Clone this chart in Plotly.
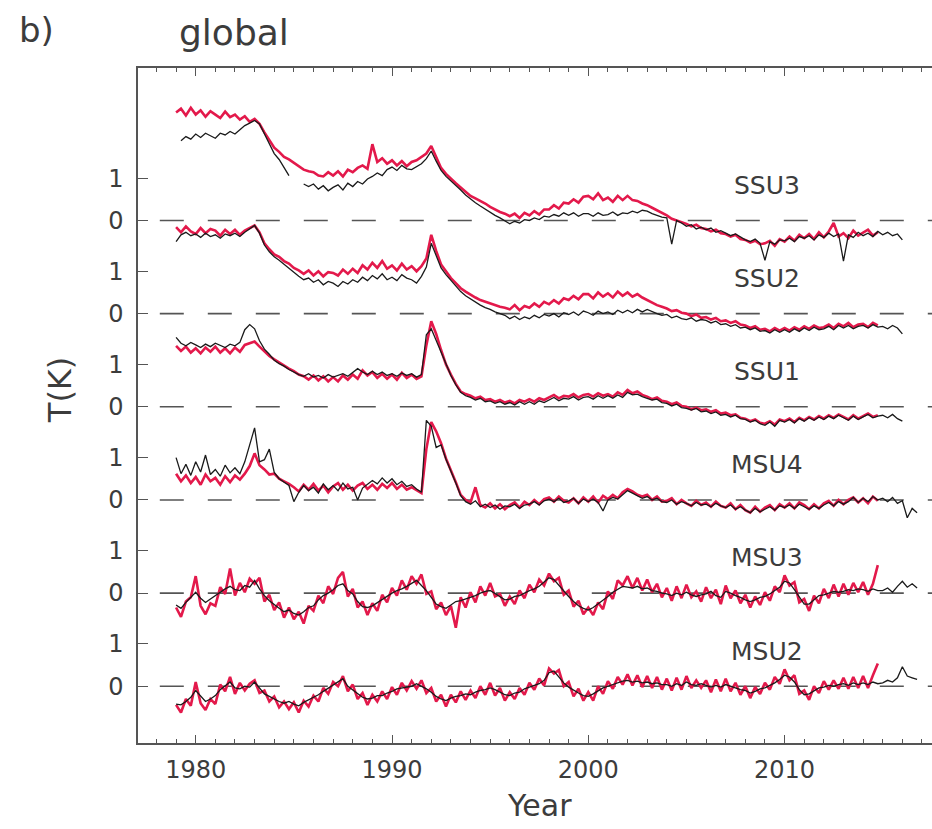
import plotly.graph_objects as go

# ---------------- data (anomalies in K, quarterly samples) ----------------
T0 = 1979.0
STEP = 0.25

band_names = ["SSU3", "SSU2", "SSU1", "MSU4", "MSU3", "MSU2"]
band_offsets = [11.0, 8.8, 6.6, 4.4, 2.2, 0.0]

ssu3_red = [
    2.55, 2.64, 2.48, 2.66, 2.50, 2.60, 2.45, 2.58, 2.50, 2.42, 2.57, 2.44,
    2.50, 2.38, 2.46, 2.33, 2.40, 2.28, 2.08, 1.90, 1.72, 1.62, 1.50, 1.44,
    1.36, 1.28, 1.20, 1.16, 1.14, 1.06, 1.04, 1.14, 1.06, 1.16, 1.04, 1.20,
    1.14, 1.24, 1.30, 1.22, 1.80, 1.38, 1.47, 1.34, 1.42, 1.30, 1.40, 1.28,
    1.38, 1.42, 1.50, 1.58, 1.76, 1.50, 1.24, 1.10, 0.98, 0.88, 0.78, 0.68,
    0.58, 0.52, 0.46, 0.40, 0.32, 0.26, 0.20, 0.16, 0.10, 0.16, 0.06, 0.18,
    0.12, 0.22, 0.14, 0.26, 0.26, 0.36, 0.28, 0.42, 0.40, 0.50, 0.42, 0.56,
    0.58, 0.50, 0.64, 0.48, 0.54, 0.44, 0.58, 0.48, 0.58, 0.48, 0.46, 0.40,
    0.36, 0.30, 0.24, 0.18, 0.12, 0.04, 0.00, -0.04, -0.08, -0.14, -0.10, -0.18,
    -0.20, -0.26, -0.22, -0.30, -0.32, -0.38, -0.34, -0.44, -0.46, -0.52, -0.48, -0.56,
    -0.54, -0.48, -0.60, -0.44, -0.50, -0.38, -0.48, -0.34, -0.42, -0.32, -0.44, -0.28,
    -0.40, -0.26, -0.06, -0.38, -0.30, -0.42, -0.24, -0.36, -0.28, -0.22, -0.36, -0.28,
]
ssu3_black = [
    None, 1.88, 1.98, 1.92, 2.04, 1.96, 2.06, 2.00, 1.94, 2.06, 2.02, 2.10,
    2.04, 2.14, 2.24, 2.30, 2.36, 2.28, 2.04, 1.84, 1.58, 1.44, 1.24, 1.06,
    None, None, 0.86, 0.80, 0.86, 0.74, 0.82, 0.70, 0.78, 0.84, 0.72, 0.88,
    0.80, 0.92, 0.86, 0.98, 1.04, 1.12, 1.06, 1.20, 1.26, 1.18, 1.30, 1.22,
    1.20, 1.28, 1.34, 1.46, 1.64, 1.40, 1.18, 1.04, 0.94, 0.82, 0.72, 0.60,
    0.50, 0.42, 0.34, 0.26, 0.20, 0.12, 0.06, 0.00, -0.08, -0.02, -0.06, 0.02,
    0.00, 0.06, 0.02, 0.10, 0.08, 0.14, 0.10, 0.18, 0.12, 0.18, 0.10, 0.16,
    0.16, 0.10, 0.18, 0.12, 0.14, 0.20, 0.12, 0.18, 0.16, 0.22, 0.18, 0.24,
    0.22, 0.16, 0.12, 0.08, 0.06, -0.56, 0.00, -0.06, -0.14, -0.10, -0.20, -0.16,
    -0.22, -0.18, -0.28, -0.24, -0.30, -0.36, -0.32, -0.40, -0.46, -0.50, -0.44, -0.54,
    -0.94, -0.50, -0.56, -0.46, -0.48, -0.42, -0.50, -0.38, -0.42, -0.36, -0.46, -0.34,
    -0.40, -0.30, -0.38, -0.32, -0.96, -0.34, -0.40, -0.28, -0.36, -0.30, -0.38, -0.26,
    -0.34, -0.28, -0.36, -0.32, -0.46,
]

ssu2_red = [
    2.04, 1.92, 2.06, 1.94, 1.88, 2.02, 1.90, 2.00, 1.96, 1.84, 1.98, 1.88,
    1.98, 1.86, 1.96, 2.02, 2.08, 1.92, 1.66, 1.52, 1.40, 1.34, 1.24, 1.18,
    1.08, 1.02, 0.94, 1.02, 0.90, 1.00, 0.88, 0.98, 0.96, 0.90, 1.04, 0.94,
    1.06, 0.96, 1.14, 1.04, 1.20, 1.08, 1.24, 1.06, 1.14, 1.02, 1.18, 1.04,
    1.12, 1.00, 1.12, 1.30, 1.86, 1.48, 1.16, 1.00, 0.84, 0.72, 0.60, 0.52,
    0.44, 0.38, 0.32, 0.28, 0.24, 0.20, 0.16, 0.14, 0.10, 0.20, 0.08, 0.18,
    0.14, 0.24, 0.16, 0.28, 0.22, 0.32, 0.24, 0.36, 0.32, 0.42, 0.34, 0.46,
    0.46, 0.36, 0.50, 0.40, 0.48, 0.38, 0.52, 0.42, 0.50, 0.40, 0.46, 0.38,
    0.32, 0.26, 0.20, 0.16, 0.12, 0.06, 0.08, 0.02, 0.00, -0.06, -0.02, -0.10,
    -0.08, -0.14, -0.10, -0.18, -0.16, -0.22, -0.18, -0.26, -0.28, -0.34, -0.30, -0.38,
    -0.36, -0.42, -0.34, -0.40, -0.34, -0.40, -0.32, -0.38, -0.30, -0.36, -0.28, -0.34,
    -0.32, -0.26, -0.34, -0.24, -0.30, -0.22, -0.32, -0.26, -0.24, -0.32, -0.22, -0.28,
]
ssu2_black = [
    1.70, 1.86, 1.92, 1.84, 1.88, 1.80, 1.90, 1.82, 1.86, 1.78, 1.88, 1.84,
    1.90, 1.82, 1.92, 2.00, 2.08, 1.90, 1.62, 1.46, 1.34, 1.26, 1.16, 1.06,
    0.96, 0.88, 0.80, 0.84, 0.74, 0.80, 0.68, 0.76, 0.72, 0.64, 0.76, 0.70,
    0.80, 0.74, 0.86, 0.78, 0.90, 0.82, 0.94, 0.80, 0.86, 0.78, 0.92, 0.84,
    0.80, 0.72, 0.88, 1.10, 1.66, 1.36, 1.08, 0.92, 0.78, 0.64, 0.52, 0.42,
    0.34, 0.26, 0.20, 0.14, 0.10, 0.04, 0.00, -0.04, -0.12, -0.06, -0.14, -0.08,
    -0.12, -0.04, -0.10, -0.02, -0.06, 0.00, -0.08, 0.02, -0.02, 0.04, -0.04, 0.06,
    0.02, -0.04, 0.06, 0.00, 0.04, -0.02, 0.08, 0.02, 0.08, 0.02, 0.10, 0.04,
    0.10, 0.04, 0.00, -0.04, -0.02, -0.10, -0.06, -0.12, -0.14, -0.10, -0.18, -0.14,
    -0.16, -0.22, -0.18, -0.26, -0.24, -0.30, -0.26, -0.34, -0.32, -0.38, -0.34, -0.42,
    -0.40, -0.46, -0.38, -0.44, -0.38, -0.44, -0.36, -0.42, -0.34, -0.40, -0.32, -0.38,
    -0.36, -0.30, -0.38, -0.28, -0.34, -0.28, -0.36, -0.30, -0.28, -0.34, -0.26, -0.32,
    -0.30, -0.36, -0.28, -0.34, -0.48,
]

ssu1_red = [
    1.44, 1.32, 1.42, 1.28, 1.38, 1.26, 1.40, 1.30, 1.42, 1.28, 1.38, 1.26,
    1.40, 1.30, 1.46, 1.50, 1.54, 1.42, 1.30, 1.20, 1.12, 1.04, 0.98, 0.90,
    0.84, 0.76, 0.72, 0.64, 0.74, 0.62, 0.72, 0.60, 0.70, 0.60, 0.74, 0.64,
    0.76, 0.66, 0.86, 0.74, 0.82, 0.68, 0.78, 0.66, 0.76, 0.64, 0.80, 0.68,
    0.76, 0.66, 0.72, 1.45, 2.02, 1.72, 1.34, 1.00, 0.76, 0.54, 0.36, 0.30,
    0.26, 0.20, 0.24, 0.16, 0.18, 0.12, 0.16, 0.10, 0.14, 0.08, 0.16, 0.12,
    0.18, 0.12, 0.20, 0.16, 0.22, 0.28, 0.20, 0.26, 0.24, 0.30, 0.22, 0.28,
    0.30, 0.24, 0.32, 0.26, 0.30, 0.24, 0.34, 0.28, 0.40, 0.32, 0.36, 0.28,
    0.24, 0.18, 0.22, 0.14, 0.12, 0.06, 0.10, 0.02, 0.00, -0.06, -0.02, -0.08,
    -0.06, -0.12, -0.08, -0.16, -0.14, -0.20, -0.18, -0.26, -0.28, -0.34, -0.30, -0.38,
    -0.40, -0.34, -0.42, -0.30, -0.34, -0.28, -0.36, -0.26, -0.32, -0.24, -0.30, -0.22,
    -0.28, -0.20, -0.26, -0.18, -0.24, -0.30, -0.20, -0.28, -0.22, -0.16, -0.24, -0.20,
]
ssu1_black = [
    1.64, 1.50, 1.44, 1.52, 1.46, 1.40, 1.48, 1.42, 1.50, 1.44, 1.40, 1.48,
    1.44, 1.52, 1.82, 1.94, 1.84, 1.56, 1.36, 1.24, 1.10, 1.02, 0.96, 0.88,
    0.82, 0.76, 0.72, 0.78, 0.70, 0.74, 0.68, 0.76, 0.70, 0.74, 0.78, 0.72,
    0.80, 0.90, 0.82, 0.76, 0.84, 0.76, 0.82, 0.74, 0.78, 0.72, 0.80, 0.74,
    0.78, 0.70, 0.76, 1.70, 1.84, 1.56, 1.28, 0.98, 0.74, 0.52, 0.34, 0.26,
    0.22, 0.16, 0.20, 0.12, 0.14, 0.08, 0.12, 0.06, 0.10, 0.04, 0.12, 0.06,
    0.12, 0.06, 0.14, 0.10, 0.16, 0.22, 0.14, 0.20, 0.18, 0.24, 0.16, 0.22,
    0.24, 0.18, 0.26, 0.20, 0.26, 0.20, 0.28, 0.22, 0.34, 0.28, 0.30, 0.24,
    0.20, 0.16, 0.18, 0.10, 0.08, 0.02, 0.06, -0.02, -0.04, -0.08, -0.04, -0.12,
    -0.10, -0.16, -0.12, -0.20, -0.18, -0.24, -0.20, -0.28, -0.30, -0.36, -0.32, -0.40,
    -0.44, -0.36, -0.46, -0.32, -0.36, -0.30, -0.38, -0.28, -0.34, -0.26, -0.32, -0.24,
    -0.30, -0.22, -0.28, -0.20, -0.26, -0.32, -0.22, -0.30, -0.24, -0.18, -0.26, -0.22,
    -0.20, -0.26, -0.18, -0.28, -0.34,
]

msu4_red = [
    0.62, 0.44, 0.58, 0.40, 0.54, 0.36, 0.60, 0.44, 0.52, 0.36, 0.56, 0.42,
    0.58, 0.48, 0.62, 0.80, 1.10, 0.82, 0.72, 0.60, 0.62, 0.50, 0.44, 0.38,
    0.30, 0.20, 0.36, 0.24, 0.38, 0.22, 0.34, 0.18, 0.32, 0.40, 0.24, 0.36,
    0.22, 0.34, 0.40, 0.26, 0.36, 0.24, 0.38, 0.28, 0.40, 0.26, 0.36, 0.24,
    0.30, 0.22, 0.16, 1.20, 1.84, 1.62, 1.34, 0.98, 0.72, 0.42, 0.12, 0.00,
    -0.06, 0.30, -0.12, -0.18, -0.08, -0.20, -0.10, -0.22, -0.12, -0.06, -0.18, -0.04,
    -0.12, 0.00, -0.10, 0.02, 0.06, -0.04, 0.08, -0.02, -0.06, 0.04, -0.08, 0.06,
    -0.04, 0.08, -0.06, 0.10, 0.02, 0.12, 0.04, 0.18, 0.26, 0.20, 0.12, 0.08,
    0.12, 0.00, 0.08, -0.04, -0.02, 0.04, -0.10, 0.00, -0.08, -0.14, -0.02, -0.12,
    -0.06, -0.16, -0.04, -0.14, -0.18, -0.08, -0.22, -0.12, -0.24, -0.30, -0.16, -0.28,
    -0.18, -0.12, -0.24, -0.10, -0.18, -0.08, -0.20, -0.06, -0.12, -0.22, -0.10, -0.20,
    -0.08, -0.02, -0.14, 0.00, -0.10, 0.00, 0.06, -0.06, 0.04, -0.08, 0.08, -0.02,
]
msu4_black = [
    1.00, 0.62, 0.84, 0.58, 0.90, 0.66, 1.06, 0.60, 0.72, 0.56, 0.82, 0.64,
    0.76, 0.62, 0.90, 1.30, 1.70, 0.90, 0.95, 1.20, 0.65, 0.50, 0.42, 0.34,
    -0.04, 0.18, 0.34, 0.22, 0.30, 0.16, 0.38, 0.24, 0.34, 0.22, 0.40, 0.26,
    0.30, 0.00, 0.28, 0.36, 0.46, 0.38, 0.52, 0.40, 0.50, 0.36, 0.44, 0.32,
    0.36, 0.26, 0.18, 1.88, 1.74, 1.24, 1.30, 0.96, 0.70, 0.40, 0.10, -0.04,
    -0.10, -0.02, -0.16, -0.10, -0.18, -0.12, -0.22, -0.14, -0.16, -0.10, -0.20, -0.12,
    -0.10, -0.04, -0.12, -0.02, 0.02, -0.04, 0.04, -0.06, -0.02, 0.04, -0.08, 0.02,
    -0.04, 0.02, -0.06, -0.26, 0.00, 0.06, 0.02, 0.12, 0.22, 0.16, 0.10, 0.04,
    0.08, 0.00, 0.04, -0.04, -0.06, 0.00, -0.10, -0.04, -0.08, -0.14, -0.06, -0.12,
    -0.10, -0.16, -0.08, -0.14, -0.18, -0.12, -0.22, -0.16, -0.24, -0.30, -0.20, -0.28,
    -0.22, -0.16, -0.24, -0.14, -0.18, -0.12, -0.20, -0.10, -0.16, -0.22, -0.14, -0.20,
    -0.12, -0.06, -0.14, -0.04, -0.10, -0.04, 0.06, -0.06, 0.04, -0.04, 0.08, 0.00,
    0.04, -0.04, 0.06, -0.08, -0.02, -0.42, -0.20, -0.30,
]

msu3_red = [
    -0.34, -0.56, -0.20, -0.10, 0.40, -0.30, -0.50, -0.24, -0.30, 0.14, -0.02, 0.58,
    -0.06, 0.24, 0.02, 0.34, 0.22, 0.36, -0.20, -0.04, -0.40, -0.22, -0.58, -0.34,
    -0.62, -0.44, -0.72, -0.30, -0.42, -0.06, -0.24, 0.16, -0.02, 0.36, 0.50, -0.08,
    0.10, -0.34, -0.20, -0.52, -0.24, -0.42, -0.04, -0.22, 0.12, -0.06, 0.30, 0.08,
    0.40, 0.22, 0.44, -0.02, 0.04, -0.38, -0.22, -0.52, -0.30, -0.82, -0.10, -0.34,
    0.02, -0.22, 0.16, -0.06, 0.24, -0.08, -0.02, -0.30, -0.08, -0.26, 0.06, -0.12,
    0.20, 0.02, 0.32, 0.18, 0.46, 0.28, 0.36, -0.04, 0.06, -0.32, -0.18, -0.50,
    -0.34, -0.52, -0.22, -0.38, 0.04, -0.14, 0.30, 0.18, 0.40, 0.12, 0.36, 0.06,
    0.32, 0.02, 0.22, -0.10, 0.12, -0.18, 0.16, -0.12, 0.20, -0.10, 0.04, -0.20,
    0.14, -0.12, 0.08, -0.26, 0.18, -0.12, 0.06, -0.24, -0.04, -0.34, -0.08, -0.28,
    0.02, -0.18, 0.16, 0.02, 0.42, 0.18, 0.26, -0.22, -0.14, -0.42, -0.06, -0.24,
    0.10, -0.12, 0.20, -0.08, 0.22, -0.04, 0.24, 0.02, 0.26, -0.04, 0.22, 0.66,
]
msu3_black = [
    -0.28, -0.36, -0.22, -0.10, 0.02, -0.12, -0.22, -0.14, -0.06, 0.04, 0.10, 0.16,
    0.08, 0.06, 0.18, 0.14, 0.30, 0.10, -0.06, -0.18, -0.28, -0.36, -0.44, -0.40,
    -0.48, -0.52, -0.44, -0.34, -0.30, -0.16, -0.06, 0.00, 0.08, 0.18, 0.22, 0.06,
    -0.02, -0.20, -0.32, -0.34, -0.30, -0.22, -0.14, -0.06, 0.00, 0.06, 0.10, 0.16,
    0.24, 0.30, 0.18, 0.06, -0.10, -0.26, -0.32, -0.36, -0.28, -0.20, -0.18, -0.14,
    -0.10, -0.06, 0.00, 0.04, 0.06, -0.02, -0.10, -0.16, -0.14, -0.08, -0.06, 0.00,
    0.06, 0.10, 0.16, 0.26, 0.36, 0.32, 0.18, 0.04, -0.08, -0.20, -0.30, -0.36,
    -0.40, -0.34, -0.26, -0.18, -0.08, 0.02, 0.10, 0.16, 0.14, 0.12, 0.16, 0.10,
    0.12, 0.06, 0.04, 0.00, -0.02, -0.06, 0.00, -0.04, 0.02, -0.04, -0.08, -0.04,
    -0.02, 0.04, -0.06, -0.10, 0.04, 0.00, -0.06, -0.10, -0.16, -0.20, -0.16, -0.10,
    -0.08, -0.02, 0.06, 0.14, 0.28, 0.24, 0.08, -0.10, -0.26, -0.26, -0.16, -0.06,
    -0.04, 0.00, 0.04, 0.02, 0.04, 0.08, 0.06, 0.10, 0.08, 0.04, 0.10, 0.06,
    0.06, 0.12, 0.02, 0.16, 0.28, 0.14, 0.22, 0.12,
]

msu2_red = [
    -0.44, -0.62, -0.30, -0.46, 0.10, -0.40, -0.56, -0.30, -0.42, 0.04, -0.12, 0.22,
    -0.18, 0.08, -0.10, 0.06, 0.14, -0.16, -0.10, -0.36, -0.24, -0.50, -0.36, -0.54,
    -0.38, -0.62, -0.34, -0.48, -0.22, -0.36, -0.04, -0.18, 0.10, 0.00, 0.24, -0.12,
    0.04, -0.30, -0.16, -0.44, -0.20, -0.36, -0.12, -0.30, -0.02, -0.20, 0.08, -0.10,
    0.12, -0.06, 0.14, -0.16, -0.04, -0.36, -0.20, -0.48, -0.20, -0.38, -0.12, -0.32,
    -0.10, -0.28, 0.00, -0.20, 0.08, -0.22, -0.04, -0.34, -0.14, -0.30, -0.04, -0.20,
    0.08, -0.08, 0.18, 0.02, 0.42, 0.30, 0.38, 0.00, 0.10, -0.24, -0.06, -0.34,
    -0.14, -0.34, 0.00, -0.18, 0.12, -0.06, 0.22, 0.04, 0.28, 0.02, 0.26, -0.02,
    0.24, -0.04, 0.22, -0.08, 0.18, -0.10, 0.20, -0.08, 0.24, -0.04, 0.14, -0.04,
    0.14, -0.14, 0.16, -0.12, 0.18, -0.12, 0.08, -0.20, 0.00, -0.28, -0.02, -0.18,
    0.08, -0.08, 0.22, 0.06, 0.40, 0.14, 0.26, -0.18, -0.10, -0.32, 0.00, -0.16,
    0.12, -0.08, 0.14, -0.06, 0.20, -0.06, 0.22, -0.04, 0.24, -0.04, 0.26, 0.54,
]
msu2_black = [
    -0.42, -0.44, -0.36, -0.26, -0.10, -0.24, -0.36, -0.30, -0.22, -0.08, 0.00, 0.10,
    -0.04, -0.06, 0.00, -0.02, 0.10, -0.04, -0.18, -0.24, -0.30, -0.36, -0.40, -0.36,
    -0.42, -0.46, -0.38, -0.32, -0.28, -0.20, -0.12, -0.04, 0.02, 0.10, 0.18, 0.00,
    -0.08, -0.18, -0.26, -0.30, -0.28, -0.22, -0.22, -0.16, -0.12, -0.06, -0.04, -0.02,
    0.00, 0.06, 0.00, -0.06, -0.14, -0.24, -0.30, -0.34, -0.28, -0.24, -0.22, -0.18,
    -0.20, -0.14, -0.10, -0.08, -0.04, -0.08, -0.14, -0.20, -0.22, -0.16, -0.14, -0.06,
    -0.02, 0.02, 0.06, 0.14, 0.32, 0.36, 0.22, 0.08, -0.02, -0.10, -0.16, -0.22,
    -0.24, -0.18, -0.10, -0.04, 0.00, 0.04, 0.08, 0.12, 0.14, 0.10, 0.12, 0.08,
    0.10, 0.06, 0.08, 0.04, 0.04, 0.00, 0.06, 0.02, 0.10, 0.04, 0.02, 0.06,
    0.02, -0.02, 0.02, -0.02, 0.04, 0.00, -0.04, -0.08, -0.10, -0.16, -0.12, -0.06,
    -0.04, 0.02, 0.08, 0.16, 0.26, 0.22, 0.10, -0.08, -0.20, -0.18, -0.10, -0.04,
    -0.02, 0.02, 0.00, 0.04, 0.06, 0.02, 0.08, 0.04, 0.08, 0.04, 0.10, 0.06,
    0.08, 0.14, 0.10, 0.20, 0.46, 0.24, 0.20, 0.16,
]

red_series = [ssu3_red, ssu2_red, ssu1_red, msu4_red, msu3_red, msu2_red]
black_series = [ssu3_black, ssu2_black, ssu1_black, msu4_black, msu3_black, msu2_black]

x_ticks = [1980, 1990, 2000, 2010]
y_tick_labels = ["0", "1"]

# ---------------- styling ----------------
RED = "#e3194b"
BLACK = "#1a1a1a"
TXT = "#3c3c3c"
AX = "#555555"
FONT = "DejaVu Sans"

fig = go.Figure()


def xs(n):
    return [T0 + STEP * i for i in range(n)]


for name, off, red, blk in zip(band_names, band_offsets, red_series, black_series):
    fig.add_trace(go.Scatter(
        x=xs(len(red)), y=[v + off for v in red], mode="lines",
        line=dict(color=RED, width=2.6), showlegend=False, hoverinfo="skip"))
    fig.add_trace(go.Scatter(
        x=xs(len(blk)), y=[None if v is None else v + off for v in blk], mode="lines",
        line=dict(color=BLACK, width=1.3), showlegend=False, hoverinfo="skip"))
    fig.add_shape(type="line", xref="x", yref="y", x0=1978.17, x1=2017.6,
                  y0=off, y1=off, layer="below",
                  line=dict(color=AX, width=1.6, dash="24px,24px"))
    fig.add_annotation(x=2009.1, y=off + 0.83, xref="x", yref="y", text=name,
                       showarrow=False, font=dict(family=FONT, size=25, color=TXT))

tickvals, ticktext = [], []
for off in band_offsets:
    tickvals += [off, off + 1]
    ticktext += y_tick_labels

fig.update_xaxes(
    range=[1977.06, 2017.51], tickvals=x_ticks,
    ticktext=[str(v) for v in x_ticks],
    ticks="inside", ticklen=8, tickwidth=1.2, tickcolor=AX,
    showline=True, linecolor=AX, linewidth=1.5, mirror="ticks",
    showgrid=False, zeroline=False,
    minor=dict(dtick=1, tick0=1980, ticks="inside", ticklen=4, tickcolor=AX, showgrid=False),
    tickfont=dict(family=FONT, size=24, color=TXT), ticklabelstandoff=4,
)
fig.update_yaxes(
    range=[-1.34, 14.6], tickvals=tickvals, ticktext=ticktext,
    ticks="inside", ticklen=10, tickwidth=1.2, tickcolor=AX,
    showline=True, linecolor=AX, linewidth=1.5, mirror=False,
    showgrid=False, zeroline=False,
    tickfont=dict(family=FONT, size=24, color=TXT), ticklabelstandoff=8,
)

fig.add_annotation(xref="paper", yref="paper", x=-0.098, y=0.523, text="T(K)",
                   textangle=-90, showarrow=False, xanchor="center", yanchor="middle",
                   font=dict(family=FONT, size=32, color=TXT))
fig.add_annotation(xref="x", yref="paper", x=1997.5, y=-0.093, text="Year",
                   showarrow=False, xanchor="center", yanchor="middle",
                   font=dict(family=FONT, size=30, color=TXT))
fig.add_annotation(xref="paper", yref="paper", x=-0.1524, y=1.056, text="b)",
                   xanchor="left", yanchor="middle", showarrow=False,
                   font=dict(family=FONT, size=34, color=TXT))
fig.add_annotation(xref="paper", yref="paper", x=0.049, y=1.053, text="global",
                   xanchor="left", yanchor="middle", showarrow=False,
                   font=dict(family=FONT, size=36, color=TXT))

fig.update_layout(
    width=932, height=829,
    margin=dict(l=138, r=0, t=68, b=86),
    paper_bgcolor="white", plot_bgcolor="white",
)

fig.write_html("out.html")
